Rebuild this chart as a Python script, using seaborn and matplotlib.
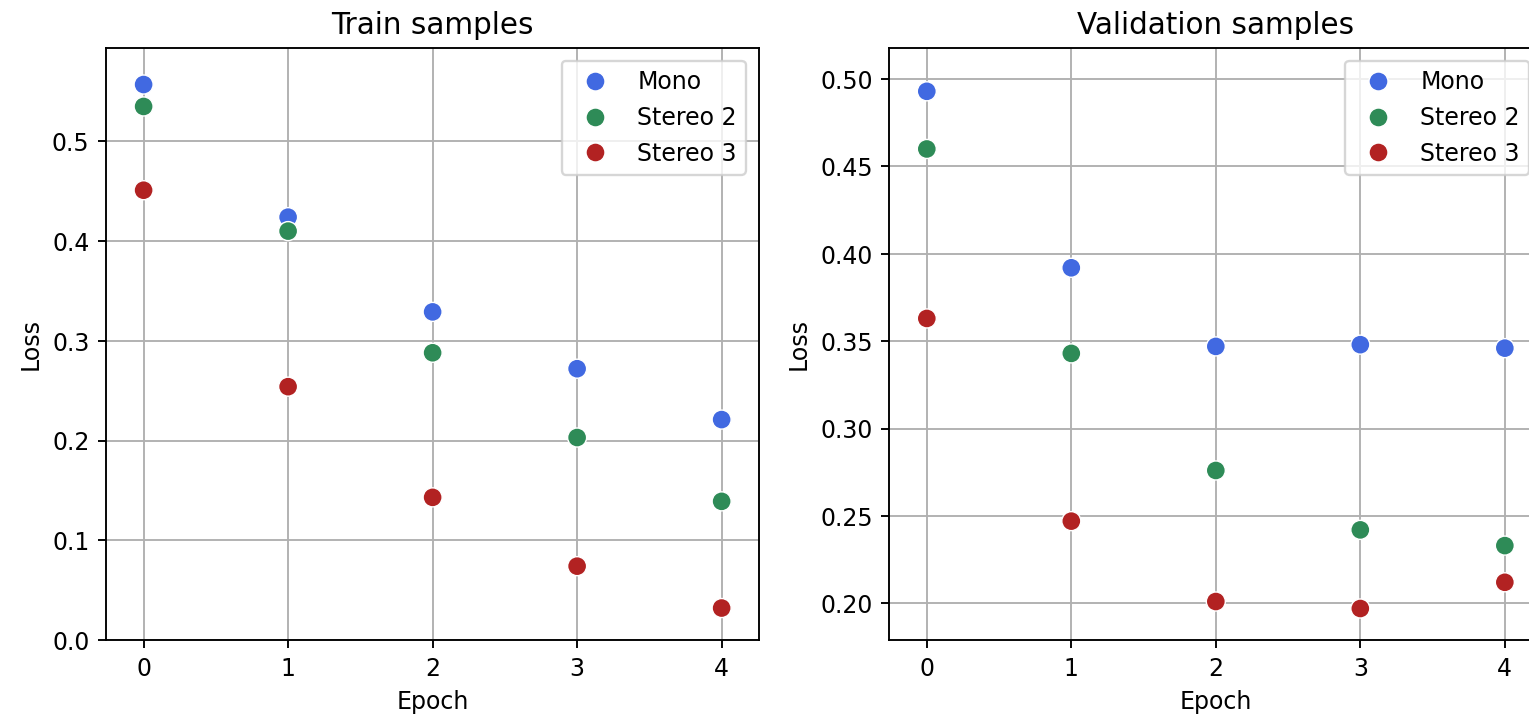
import matplotlib
matplotlib.use('Agg')
import matplotlib.pyplot as plt
import seaborn as sns
import pandas as pd

epochs = [0, 1, 2, 3, 4]
models = ['Mono', 'Stereo 2', 'Stereo 3']

train_mono = [0.557, 0.424, 0.329, 0.272, 0.221]
train_stereo2 = [0.535, 0.410, 0.288, 0.203, 0.139]
train_stereo3 = [0.451, 0.254, 0.143, 0.074, 0.032]

val_mono = [0.493, 0.392, 0.347, 0.348, 0.346]
val_stereo2 = [0.460, 0.343, 0.276, 0.242, 0.233]
val_stereo3 = [0.363, 0.247, 0.201, 0.197, 0.212]

palette = {'Mono': '#4169e1', 'Stereo 2': '#2e8b57', 'Stereo 3': '#b22222'}


def to_long(series):
    rows = []
    for name, vals in zip(models, series):
        for e, v in zip(epochs, vals):
            rows.append({'Epoch': e, 'Loss': v, 'model': name})
    return pd.DataFrame(rows)


train = to_long([train_mono, train_stereo2, train_stereo3])
val = to_long([val_mono, val_stereo2, val_stereo3])

sns.set_style('ticks', {'axes.grid': True, 'grid.color': '#b0b0b0',
                        'axes.edgecolor': 'black', 'text.color': 'black',
                        'axes.labelcolor': 'black', 'xtick.color': 'black',
                        'ytick.color': 'black'})
plt.rcParams['font.family'] = ['DejaVu Sans']

dpi = 170
fig = plt.figure(figsize=(1529.4 / dpi, 720.4 / dpi), dpi=dpi)
ax1 = fig.add_axes([106 / 1529, 80 / 720, 653 / 1529, 592 / 720])  # train
ax2 = fig.add_axes([889 / 1529, 80 / 720, 653 / 1529, 592 / 720])  # validation

for ax, df, title, ylim in [(ax1, train, 'Train samples', (0, 0.594)),
                            (ax2, val, 'Validation samples', (0.179, 0.518))]:
    sns.scatterplot(data=df, x='Epoch', y='Loss', hue='model', palette=palette,
                    s=65, edgecolor='white', linewidth=0.6, ax=ax)
    ax.set_axisbelow(True)
    ax.set_xlim(-0.26, 4.26)
    ax.set_ylim(*ylim)
    ax.set_xticks(epochs)
    ax.set_title(title, fontsize=12.5)
    ax.legend(loc='upper right', borderaxespad=0.55)
    for s in ax.spines.values():
        s.set_color('black')

ax1.set_yticks([0.0, 0.1, 0.2, 0.3, 0.4, 0.5])
ax2.set_yticks([0.20, 0.25, 0.30, 0.35, 0.40, 0.45, 0.50])
ax2.set_yticklabels(['0.20', '0.25', '0.30', '0.35', '0.40', '0.45', '0.50'])

fig.savefig('out.png', dpi=dpi)
